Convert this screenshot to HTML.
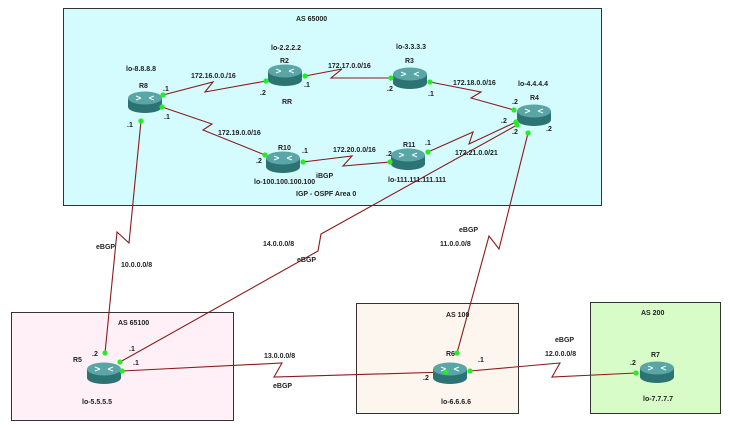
<!DOCTYPE html>
<html><head><meta charset="utf-8"><style>
html,body{margin:0;padding:0;background:#fff}
svg text{font-family:"Liberation Sans",sans-serif;font-size:7px;font-weight:bold;fill:#222}
</style></head><body>
<svg width="730" height="425" viewBox="0 0 730 425" xmlns="http://www.w3.org/2000/svg">
<defs>
<linearGradient id="rg" x1="0" y1="0" x2="0" y2="1"><stop offset="0" stop-color="#4f9b9b"/><stop offset="1" stop-color="#2f7676"/></linearGradient>
<g id="rt">
<path d="M-17,-4 L-17,5 A17,6 0 0 0 17,5 L17,-4 Z" fill="#2e7373"/>
<ellipse cx="0" cy="-4" rx="17" ry="6.5" fill="#5aa5a5"/>
<path d="M-9,-6 L-4,-4 M9,-6 L4,-4 M-9,-2 L-4,-4 M9,-2 L4,-4" stroke="#e8ffff" stroke-width="1.2"/>
</g>
</defs>
<rect x="63.5" y="8.5" width="538" height="197" fill="#d4fbfd" stroke="#333" stroke-width="1"/>
<rect x="11.5" y="312.5" width="222" height="108" fill="#fff0f7" stroke="#333" stroke-width="1"/>
<rect x="356.5" y="303.5" width="162" height="110" fill="#fdf6ef" stroke="#333" stroke-width="1"/>
<rect x="590.5" y="302.5" width="130" height="111" fill="#d8fcc8" stroke="#333" stroke-width="1"/>
<g fill="none" stroke="#8b1a1a" stroke-width="1.1">
<polyline points="163,95 213,82 205,92 266,81"/>
<polyline points="305,76 342,69 331,78 391,78"/>
<polyline points="430,82 481,92 471,98 514,110"/>
<polyline points="162,107 212,124 203,130 265,155"/>
<polyline points="303,162 352,156 343,166 390,162"/>
<polyline points="428,152 473,132 469,144 516,122"/>
<polyline points="517,125 321,234 318,251 120,362"/>
<polyline points="141,121 129,243 117,232 105,353"/>
<polyline points="528,133 499,249 489,236 457,353"/>
<polyline points="122,371 282,363 274,377 446,372"/>
<polyline points="470,371 560,363 552,377 636,373"/>
</g>
<use href="#rt" x="145" y="102"/>
<use href="#rt" x="285" y="75"/>
<use href="#rt" x="410" y="78"/>
<use href="#rt" x="534" y="115"/>
<use href="#rt" x="283" y="162"/>
<use href="#rt" x="408" y="159"/>
<use href="#rt" x="104" y="373"/>
<use href="#rt" x="450" y="373"/>
<use href="#rt" x="657" y="372"/>
<g fill="#22ee22">
<circle cx="163" cy="95" r="2.6"/><circle cx="162" cy="107" r="2.6"/><circle cx="141" cy="121" r="2.6"/>
<circle cx="266" cy="81" r="2.6"/><circle cx="305" cy="76" r="2.6"/>
<circle cx="391" cy="78" r="2.6"/><circle cx="430" cy="82" r="2.6"/>
<circle cx="514" cy="110" r="2.6"/><circle cx="516" cy="122" r="2.6"/><circle cx="517" cy="125" r="2.6"/><circle cx="528" cy="133" r="2.6"/>
<circle cx="265" cy="155" r="2.6"/><circle cx="303" cy="162" r="2.6"/>
<circle cx="390" cy="162" r="2.6"/><circle cx="428" cy="152" r="2.6"/>
<circle cx="105" cy="353" r="2.6"/><circle cx="120" cy="362" r="2.6"/><circle cx="122" cy="371" r="2.6"/>
<circle cx="457" cy="353" r="2.6"/><circle cx="446" cy="372" r="2.6"/><circle cx="470" cy="371" r="2.6"/>
<circle cx="636" cy="373" r="2.6"/>
</g>
<text x="296" y="21">AS 65000</text>
<text x="271" y="50">lo-2.2.2.2</text>
<text x="396" y="49">lo-3.3.3.3</text>
<text x="126" y="71">lo-8.8.8.8</text>
<text x="518" y="86">lo-4.4.4.4</text>
<text x="139" y="88">R8</text><text x="280" y="63">R2</text><text x="405" y="63">R3</text><text x="530" y="100">R4</text>
<text x="278" y="150">R10</text><text x="403" y="147">R11</text>
<text x="191" y="78">172.16.0.0./16</text>
<text x="328" y="68">172.17.0.0/16</text>
<text x="453" y="85">172.18.0.0/16</text>
<text x="218" y="135">172.19.0.0/16</text>
<text x="333" y="152">172.20.0.0/16</text>
<text x="455" y="155">172.21.0.0/21</text>
<text x="163" y="91">.1</text><text x="164" y="119">.1</text><text x="127" y="127">.1</text>
<text x="260" y="95">.2</text><text x="304" y="87">.1</text><text x="282" y="104">RR</text>
<text x="387" y="91">.2</text><text x="428" y="96">.1</text>
<text x="512" y="104">.2</text><text x="501" y="123">.2</text><text x="512" y="134">.2</text><text x="546" y="131">.2</text>
<text x="256" y="163">.2</text><text x="302" y="153">.1</text>
<text x="386" y="156">.2</text><text x="425" y="145">.1</text>
<text x="254" y="184">lo-100.100.100.100</text>
<text x="316" y="178">iBGP</text>
<text x="388" y="182">lo-111.111.111.111</text>
<text x="296" y="196">IGP - OSPF Area 0</text>
<text x="96" y="249">eBGP</text><text x="121" y="267">10.0.0.0/8</text>
<text x="263" y="246">14.0.0.0/8</text><text x="297" y="262">eBGP</text>
<text x="459" y="232">eBGP</text><text x="440" y="246">11.0.0.0/8</text>
<text x="118" y="325">AS 65100</text>
<text x="446" y="317">AS 100</text>
<text x="641" y="315">AS 200</text>
<text x="73" y="362">R5</text><text x="92" y="356">.2</text><text x="129" y="351">.1</text><text x="133" y="365">.1</text>
<text x="264" y="358">13.0.0.0/8</text><text x="273" y="388">eBGP</text>
<text x="82" y="404">lo-5.5.5.5</text>
<text x="446" y="356">R6</text><text x="423" y="380">.2</text><text x="478" y="362">.1</text>
<text x="441" y="404">lo-6.6.6.6</text>
<text x="555" y="342">eBGP</text><text x="545" y="356">12.0.0.0/8</text>
<text x="651" y="357">R7</text><text x="630" y="365">.2</text>
<text x="643" y="401">lo-7.7.7.7</text>
</svg>
</body></html>
